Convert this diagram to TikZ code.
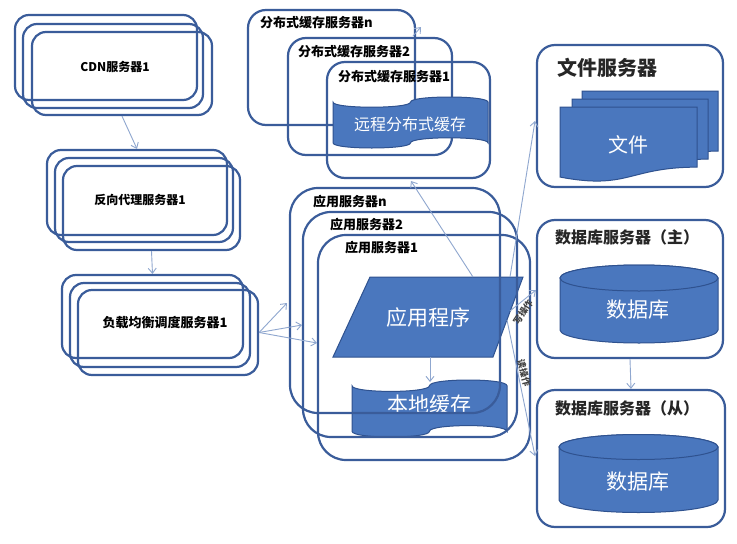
\documentclass[tikz,border=0pt]{standalone}
\usepackage{fontspec}
\setmainfont{Noto Sans CJK SC}
\usetikzlibrary{arrows.meta}
\definecolor{boxc}{HTML}{3A5C9A}
\definecolor{fillc}{HTML}{4A77BE}
\definecolor{fillb}{HTML}{2F528F}
\definecolor{arrc}{HTML}{8FA7CF}
\tikzset{
  srv/.style={draw=boxc, line width=2.2pt, rounded corners=#1, inner sep=0pt},
  srv/.default=14pt,
  shp/.style={fill=fillc, draw=fillb, line width=1pt},
  lbl/.style={font=\bfseries\fontsize{12pt}{14pt}\selectfont, inner sep=0pt, text=black},
  slbl/.style={font=\bfseries\fontsize{13pt}{15pt}\selectfont, inner sep=0pt, text=black, anchor=west},
  ttl/.style={font=\bfseries\fontsize{#1}{#1}\selectfont, inner sep=0pt, text=black!85, anchor=west},
  ttl/.default=16pt,
  wtxt/.style={font=\fontsize{#1}{#1}\selectfont, inner sep=0pt, text=white},
  wtxt/.default=20pt,
  optxt/.style={font=\bfseries\fontsize{9pt}{9pt}\selectfont, inner sep=0pt, text=black!75},
  arr/.style={draw=arrc, line width=0.9pt, -{Straight Barb[length=5pt,width=8pt]}}
}
\newcommand\tapeshape[4]{%
  \pgfmathsetmacro\tpA{(#4-#2)/10}%
  \pgfmathsetmacro\tpB{4*\tpA/3}%
  \pgfmathsetmacro\tpM{(#1+#3)/2}%
  \path[shp] (#1,#2+\tpA) .. controls (#1,#2+\tpA+\tpB) and (\tpM,#2+\tpA+\tpB) .. (\tpM,#2+\tpA)
    .. controls (\tpM,#2+\tpA-\tpB) and (#3,#2+\tpA-\tpB) .. (#3,#2+\tpA)
    -- (#3,#4-\tpA) .. controls (#3,#4-\tpA-\tpB) and (\tpM,#4-\tpA-\tpB) .. (\tpM,#4-\tpA)
    .. controls (\tpM,#4-\tpA+\tpB) and (#1,#4-\tpA+\tpB) .. (#1,#4-\tpA) -- cycle;}
\newcommand\docshape[4]{%
  \pgfmathsetmacro\dsH{#4-#2}%
  \pgfmathsetmacro\dsM{(#1+#3)/2}%
  \path[shp] (#1,#2) -- (#3,#2) -- (#3,#2+0.802*\dsH)
    .. controls (\dsM,#2+0.802*\dsH) and (\dsM,#2+1.108*\dsH) .. (#1,#2+0.934*\dsH) -- cycle;}
\newcommand\cylshape[5]{% x0 x1 ytop ybot ry
  \pgfmathsetmacro\cyR{(#2-#1)/2}%
  \pgfmathsetmacro\cyC{(#1+#2)/2}%
  \path[shp] (#1,#3) -- (#1,#4) arc[start angle=180, end angle=360, x radius=\cyR pt, y radius=#5pt] -- (#2,#3) arc[start angle=0, end angle=180, x radius=\cyR pt, y radius=#5pt] -- cycle;
  \path[shp] (\cyC,#3) ellipse [x radius=\cyR pt, y radius=#5pt];}
\begin{document}
\begin{tikzpicture}[x=1pt,y=-1pt]
\useasboundingbox[fill=white] (0,0) rectangle (737,544);

% CDN
\node[srv, minimum width=182pt, minimum height=85pt] (cdn1) at (106,57.5) {};
\node[srv, minimum width=180pt, minimum height=84pt] (cdn2) at (113,66) {};
\node[srv, minimum width=180pt, minimum height=83pt] (cdn3) at (122,73.5) {};
\node[lbl] (cdnt) at (115,67) {CDN服务器1};
% reverse proxy
\node[srv, minimum width=180pt, minimum height=85pt] (rp1) at (137,192.5) {};
\node[srv, minimum width=178pt, minimum height=84pt] (rp2) at (144,200) {};
\node[srv, minimum width=177pt, minimum height=84pt] (rp3) at (151.5,208) {};
\node[lbl] (rpt) at (140,200) {反向代理服务器1};
% load balancer
\node[srv, minimum width=181pt, minimum height=83pt] (lb1) at (152.5,316.5) {};
\node[srv, minimum width=180pt, minimum height=84pt] (lb2) at (160,325) {};
\node[srv, minimum width=180pt, minimum height=85pt] (lb3) at (168,332.5) {};
\node[lbl, font=\bfseries\fontsize{13pt}{15pt}\selectfont] (lbt) at (165,323) {负载均衡调度服务器1};

\draw[arr] (cdn3.south) -- (rp1.north);
\draw[arr] (rp3.south) -- (lb1.north);

% distributed cache
\node[srv=18pt, minimum width=167pt, minimum height=115pt] (dcn) at (331.5,67.5) {};
\node[srv=18pt, minimum width=164pt, minimum height=117pt] (dc2) at (370,96.5) {};
\node[srv=18pt, minimum width=163pt, minimum height=116pt] (dc1) at (408.5,120) {};
\node[slbl] (dcnt) at (260,23) {分布式缓存服务器n};
\node[slbl] (dc2t) at (298,52) {分布式缓存服务器2};
\node[slbl] (dc1t) at (338,77) {分布式缓存服务器1};
\tapeshape{333}{97}{488}{148}
\node[wtxt=16pt] (rct) at (410,124) {远程分布式缓存};

% application servers: fills first
\path[shp] (370,277) -- (523,277) -- (493,357) -- (333,357) -- cycle;
\tapeshape{352}{380}{507}{437}
\node[wtxt=21pt] (lct) at (429,405) {本地缓存};
\node[srv=28pt, minimum width=210pt, minimum height=225pt] (appn) at (395,300.5) {};
\node[srv=28pt, minimum width=214pt, minimum height=225pt] (app2) at (410,324.5) {};
\node[srv=28pt, minimum width=212pt, minimum height=225pt] (app1) at (424,347.5) {};
\node[slbl] (appnt) at (313,202) {应用服务器n};
\node[slbl] (app2t) at (330,225) {应用服务器2};
\node[slbl] (app1t) at (345,248) {应用服务器1};
\node[wtxt=21pt] (apt) at (428,318) {应用程序};

% file server
\node[srv=18pt, minimum width=186pt, minimum height=142pt] (fs) at (630,116) {};
\node[ttl=20pt] (fst) at (557,68) {文件服务器};
\docshape{582}{91}{718}{166}
\docshape{572}{99}{708}{174}
\docshape{560}{107}{697}{182}
\node[wtxt=20pt] (fdt) at (628,145) {文件};

% database servers
\node[srv=18pt, minimum width=186pt, minimum height=138pt] (dbm) at (630,289) {};
\node[ttl] (dbmt) at (555,237) {数据库服务器（主）};
\cylshape{560}{718}{278}{330}{13}
\node[wtxt=21pt] (dbmd) at (638,310) {数据库};
\node[srv=18pt, minimum width=188pt, minimum height=137pt] (dbs) at (631,458.5) {};
\node[ttl] (dbst) at (555,408) {数据库服务器（从）};
\cylshape{559}{718}{447}{500}{12.5}
\node[wtxt=21pt] (dbsd) at (638,482) {数据库};

% connector end points
\coordinate (lbA) at (287,303);
\coordinate (lbB) at (302,325);
\coordinate (lbC) at (317,343);
\coordinate (pgtop) at (473,277);
\coordinate (pgtopR) at (510,277);
\coordinate (pgW) at (510,311);
\coordinate (pgR) at (507,320);
\coordinate (pgbot) at (430,357);
\coordinate (lctop) at (430,382);
\coordinate (rcin) at (411,181);
\coordinate (fsin) at (535,121);
\coordinate (dbmin) at (536,290);
\coordinate (dbsin) at (535,456);
\coordinate (smA) at (413,36);
\coordinate (smB) at (421,27);

\draw[arr] (lb3.east) -- (lbA);
\draw[arr] (lb3.east) -- (lbB);
\draw[arr] (lb3.east) -- (lbC);
\draw[arr] (pgtop) -- (rcin);
\draw[arr] (pgtopR) -- (fsin);
\draw[arr] (pgW) -- (dbmin);
\draw[arr] (pgR) -- (dbsin);
\draw[arr] (pgbot) -- (lctop);
\draw[arr] (dbm.south) -- (dbs.north);
\draw[arr] (smA) -- (smB);

\node[optxt, rotate=56] (wop) at (523,312) {写操作};
\node[optxt, rotate=-76] (rop) at (524,373) {读操作};
\end{tikzpicture}
\end{document}
